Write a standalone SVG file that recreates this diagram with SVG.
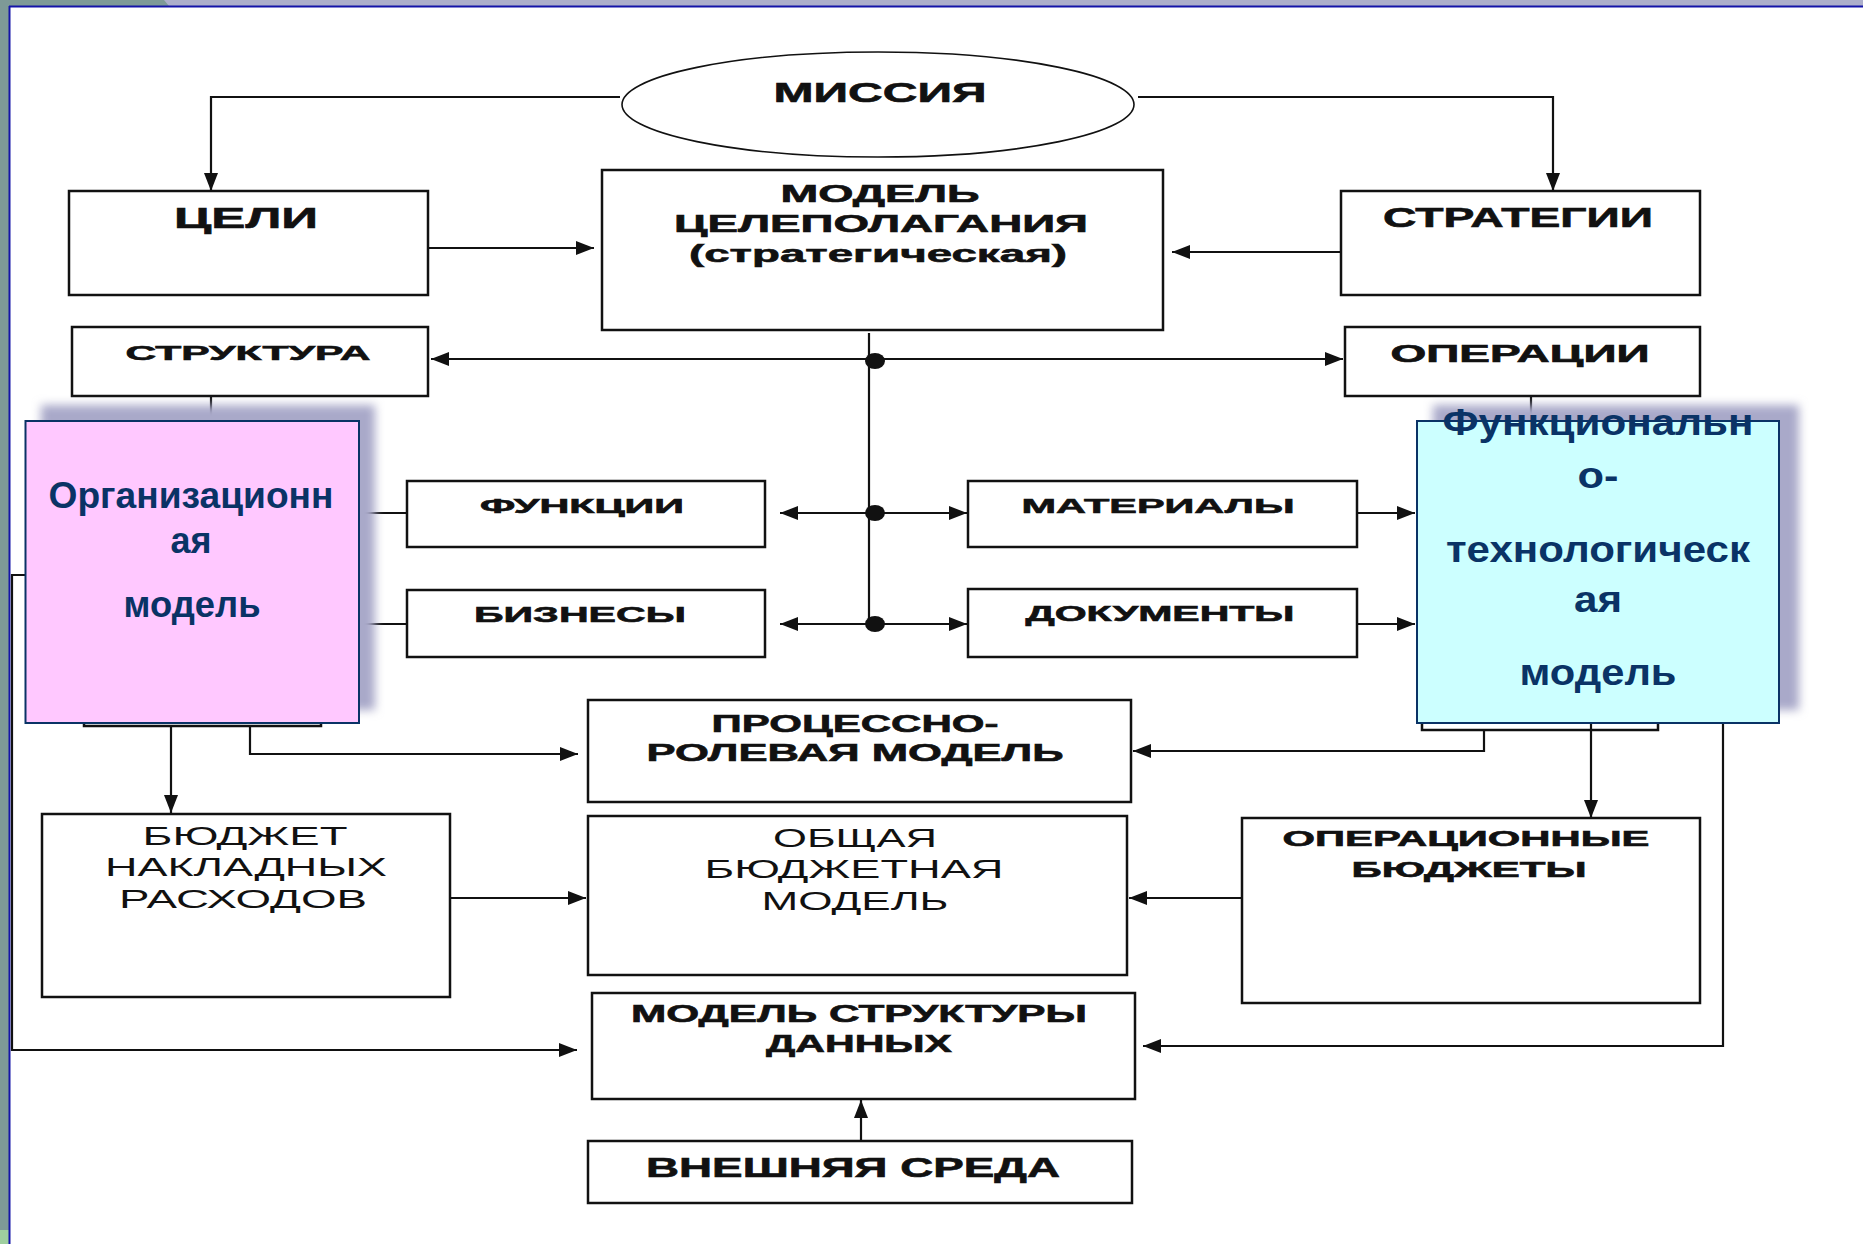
<svg xmlns="http://www.w3.org/2000/svg" width="1863" height="1244" viewBox="0 0 1863 1244">
<style>
.box{fill:#fff;stroke:#111;stroke-width:2.5}
.ln{fill:none;stroke:#111;stroke-width:2.2}
.arr{marker-end:url(#ah)}
.b{font-family:"Liberation Sans",Arial,sans-serif;font-weight:bold;fill:#111;stroke:#111;stroke-width:0.6;text-anchor:middle}
.r{font-family:"Liberation Sans",Arial,sans-serif;font-weight:normal;fill:#111;text-anchor:middle}
.m{font-family:"Liberation Sans Narrow","Liberation Sans",Arial,sans-serif;font-weight:bold;fill:#0a3366;text-anchor:middle;font-size:36px}
.dot{fill:#111}
</style>
<defs>
<marker id="ah" markerUnits="userSpaceOnUse" viewBox="0 0 18 14" refX="18" refY="7" markerWidth="18" markerHeight="14" orient="auto">
<path d="M0,0 L18,7 L0,14 Z" fill="#111"/>
</marker>
<filter id="blur" x="-20%" y="-20%" width="140%" height="140%">
<feGaussianBlur stdDeviation="5"/>
</filter>
</defs>

<!-- slide frame -->
<rect x="0" y="0" width="1863" height="1244" fill="#fff"/>
<rect x="0" y="0" width="1863" height="6" fill="#adafcb"/>
<polygon points="0,0 164,0 169,6 9,6 9,1244 0,1244" fill="#7e9a97"/>
<rect x="0" y="1230" width="9" height="14" fill="#9fcf9f"/>
<line x1="9" y1="6.5" x2="1863" y2="6.5" stroke="#1414a8" stroke-width="2"/>
<line x1="9.5" y1="6" x2="9.5" y2="1244" stroke="#1414a8" stroke-width="2"/>

<!-- hidden underlying boxes -->
<rect x="84" y="440" width="237" height="286" class="box"/>
<rect x="1422" y="440" width="236" height="290" class="box"/>

<!-- connectors -->
<g id="connectors">
<path class="ln arr" d="M620,97 H211 V191"/>
<path class="ln arr" d="M1138,97 H1553 V191"/>
<path class="ln arr" d="M417,248 H594"/>
<path class="ln arr" d="M1341,252 H1172"/>
<path class="ln" d="M869,333 V624"/>
<path class="ln arr" d="M869,359 H431"/>
<path class="ln arr" d="M869,359 H1343"/>
<path class="ln arr" d="M869,513 H780"/>
<path class="ln arr" d="M869,513 H967"/>
<path class="ln arr" d="M869,624 H780"/>
<path class="ln arr" d="M869,624 H967"/>
<path class="ln arr" d="M1357,513 H1415"/>
<path class="ln arr" d="M1357,624 H1415"/>
<path class="ln" d="M359,513 H407"/>
<path class="ln" d="M359,624 H407"/>
<path class="ln" d="M211,396 V425"/>
<path class="ln" d="M1531,396 V425"/>
<path class="ln arr" d="M171,726 V813"/>
<path class="ln arr" d="M250,726 V754 H578"/>
<path class="ln arr" d="M25,575 H12 V1050 H577"/>
<path class="ln arr" d="M451,898 H586"/>
<path class="ln arr" d="M1484,730 V751 H1133"/>
<path class="ln arr" d="M1591,723 V818"/>
<path class="ln arr" d="M1242,898 H1129"/>
<path class="ln arr" d="M1723,723 V1046 H1143"/>
<path class="ln arr" d="M861,1140 V1100"/>
<ellipse class="dot" cx="875" cy="361" rx="10" ry="8"/>
<ellipse class="dot" cx="875" cy="513" rx="10" ry="8"/>
<ellipse class="dot" cx="875" cy="624" rx="10" ry="8"/>
</g>

<g id="mission">
<ellipse cx="878" cy="104.5" rx="256" ry="52.5" fill="#fff" stroke="#111" stroke-width="1.6"/>
<text class="b" x="880" y="102" font-size="28" textLength="213" lengthAdjust="spacingAndGlyphs">МИССИЯ</text>
</g>

<g id="goals">
<rect class="box" x="69" y="191" width="359" height="104"/>
<text class="b" x="246" y="228" font-size="30" textLength="144" lengthAdjust="spacingAndGlyphs">ЦЕЛИ</text>
</g>

<g id="model">
<rect class="box" x="602" y="170" width="561" height="160"/>
<text class="b" x="880" y="202" font-size="24" textLength="199" lengthAdjust="spacingAndGlyphs">МОДЕЛЬ</text>
<text class="b" x="881" y="232" font-size="24" textLength="414" lengthAdjust="spacingAndGlyphs">ЦЕЛЕПОЛАГАНИЯ</text>
<text class="b" x="878" y="262" font-size="24" textLength="378" lengthAdjust="spacingAndGlyphs">(стратегическая)</text>
</g>

<g id="strategies">
<rect class="box" x="1341" y="191" width="359" height="104"/>
<text class="b" x="1518" y="227" font-size="27" textLength="270" lengthAdjust="spacingAndGlyphs">СТРАТЕГИИ</text>
</g>

<g id="structure">
<rect class="box" x="72" y="327" width="356" height="69"/>
<text class="b" x="248" y="360" font-size="21" textLength="245" lengthAdjust="spacingAndGlyphs">СТРУКТУРА</text>
</g>

<g id="operations">
<rect class="box" x="1345" y="327" width="355" height="69"/>
<text class="b" x="1520" y="362" font-size="23" textLength="259" lengthAdjust="spacingAndGlyphs">ОПЕРАЦИИ</text>
</g>

<g id="functions">
<rect class="box" x="407" y="481" width="358" height="66"/>
<text class="b" x="582" y="513" font-size="20" textLength="204" lengthAdjust="spacingAndGlyphs">ФУНКЦИИ</text>
</g>

<g id="businesses">
<rect class="box" x="407" y="590" width="358" height="67"/>
<text class="b" x="580" y="622" font-size="22" textLength="212" lengthAdjust="spacingAndGlyphs">БИЗНЕСЫ</text>
</g>

<g id="materials">
<rect class="box" x="968" y="481" width="389" height="66"/>
<text class="b" x="1158" y="513" font-size="21" textLength="273" lengthAdjust="spacingAndGlyphs">МАТЕРИАЛЫ</text>
</g>

<g id="documents">
<rect class="box" x="968" y="589" width="389" height="68"/>
<text class="b" x="1160" y="621" font-size="22" textLength="269" lengthAdjust="spacingAndGlyphs">ДОКУМЕНТЫ</text>
</g>

<g id="org-model">
<rect x="41" y="405" width="334" height="305" fill="#a9a9c9" filter="url(#blur)"/>
<rect x="25.5" y="421" width="333.5" height="302" fill="#ffc8ff" stroke="#0a3366" stroke-width="2"/>
<text class="m" x="191" y="508" textLength="285" lengthAdjust="spacingAndGlyphs">Организационн</text>
<text class="m" x="191" y="553" textLength="41" lengthAdjust="spacingAndGlyphs">ая</text>
<text class="m" x="192" y="617" textLength="137" lengthAdjust="spacingAndGlyphs">модель</text>
</g>

<g id="func-tech-model">
<rect x="1433" y="405" width="366" height="305" fill="#a9a9c9" filter="url(#blur)"/>
<rect x="1417" y="421" width="362" height="302" fill="#ccffff" stroke="#0a3366" stroke-width="2"/>
<text class="m" x="1598" y="435" font-size="37" textLength="311" lengthAdjust="spacingAndGlyphs">Функциональн</text>
<text class="m" x="1598" y="488" font-size="37" textLength="41" lengthAdjust="spacingAndGlyphs">о-</text>
<text class="m" x="1598" y="562" font-size="37" textLength="304" lengthAdjust="spacingAndGlyphs">технологическ</text>
<text class="m" x="1598" y="612" font-size="37" textLength="48" lengthAdjust="spacingAndGlyphs">ая</text>
<text class="m" x="1598" y="685" font-size="37" textLength="157" lengthAdjust="spacingAndGlyphs">модель</text>
</g>

<g id="process-role">
<rect class="box" x="588" y="700" width="543" height="102"/>
<text class="b" x="855" y="732" font-size="24" textLength="287" lengthAdjust="spacingAndGlyphs">ПРОЦЕССНО-</text>
<text class="b" x="855" y="761" font-size="24" textLength="417" lengthAdjust="spacingAndGlyphs">РОЛЕВАЯ  МОДЕЛЬ</text>
</g>

<g id="overhead-budget">
<rect class="box" x="42" y="814" width="408" height="183"/>
<text class="r" x="245" y="845" font-size="26" textLength="205" lengthAdjust="spacingAndGlyphs">БЮДЖЕТ</text>
<text class="r" x="246" y="876" font-size="26" textLength="282" lengthAdjust="spacingAndGlyphs">НАКЛАДНЫХ</text>
<text class="r" x="243" y="908" font-size="26" textLength="248" lengthAdjust="spacingAndGlyphs">РАСХОДОВ</text>
</g>

<g id="general-budget">
<rect class="box" x="588" y="816" width="539" height="159"/>
<text class="r" x="855" y="847" font-size="25" textLength="164" lengthAdjust="spacingAndGlyphs">ОБЩАЯ</text>
<text class="r" x="854" y="878" font-size="25" textLength="299" lengthAdjust="spacingAndGlyphs">БЮДЖЕТНАЯ</text>
<text class="r" x="855" y="910" font-size="25" textLength="187" lengthAdjust="spacingAndGlyphs">МОДЕЛЬ</text>
</g>

<g id="operational-budgets">
<rect class="box" x="1242" y="818" width="458" height="185"/>
<text class="b" x="1466" y="846" font-size="22" textLength="367" lengthAdjust="spacingAndGlyphs">ОПЕРАЦИОННЫЕ</text>
<text class="b" x="1469" y="877" font-size="22" textLength="235" lengthAdjust="spacingAndGlyphs">БЮДЖЕТЫ</text>
</g>

<g id="data-structure">
<rect class="box" x="592" y="993" width="543" height="106"/>
<text class="b" x="859" y="1022" font-size="24" textLength="456" lengthAdjust="spacingAndGlyphs">МОДЕЛЬ СТРУКТУРЫ</text>
<text class="b" x="859" y="1052" font-size="24" textLength="186" lengthAdjust="spacingAndGlyphs">ДАННЫХ</text>
</g>

<g id="environment">
<rect class="box" x="588" y="1141" width="544" height="62"/>
<text class="b" x="853" y="1177" font-size="27" textLength="414" lengthAdjust="spacingAndGlyphs">ВНЕШНЯЯ СРЕДА</text>
</g>
</svg>
